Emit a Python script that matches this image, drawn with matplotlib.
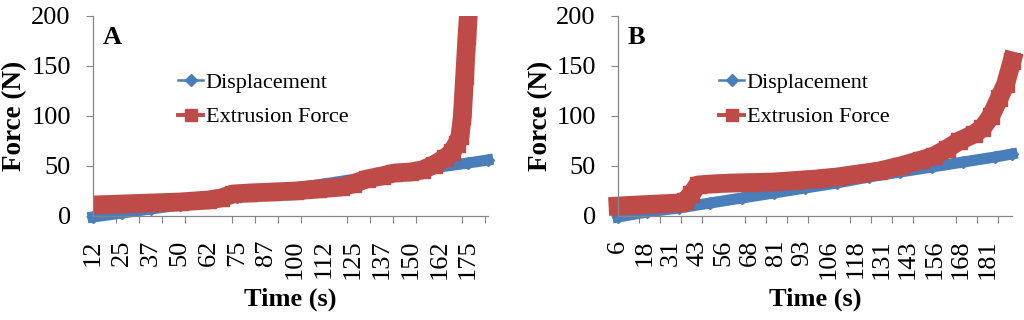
import matplotlib
matplotlib.use("Agg")
import matplotlib.pyplot as plt
from matplotlib.lines import Line2D
from matplotlib.ticker import FixedLocator

plt.rcParams["font.family"] = ["Liberation Serif", "DejaVu Serif"]

BLUE = "#4A7EBB"
RED = "#BE4B48"
AXIS_GREY = "#868686"

# panel A
a_disp_t = [12.5, 25, 37.5, 50, 62.5, 75, 87.5, 100, 112.5, 125, 137.5, 150, 162.5, 175, 183.5]
a_disp_v = [-1, 3, 7, 11, 15, 19, 23.5, 28, 32, 36.5, 41, 45, 49, 53, 56]
a_force_t = [12.5, 25, 37.5, 50, 62.5, 68, 73, 80, 90, 100, 110, 120, 125, 131, 137.5,
             143, 150, 155, 160, 165, 168, 170, 171.5, 172.5, 173.5, 174.5, 175.5]
a_force_v = [11, 12, 13, 14, 16, 18, 22, 23, 24, 25, 27, 29, 32, 37, 40,
             43, 44, 46, 51, 58, 64, 72, 80, 100, 140, 180, 215]
a_labels = ["12", "25", "37", "50", "62", "75", "87", "100", "112", "125",
            "137", "150", "162", "175"]

# panel B
b_disp_t = [6.25, 20, 35, 50, 65, 80, 95, 110, 125, 140, 155, 170, 185, 193]
b_disp_v = [-1, 4, 8, 13, 18, 23, 28, 33, 39, 44, 49, 54, 59, 62]
b_force_t = [6.25, 15, 25, 35, 38, 41, 44, 50, 60, 70, 80, 90, 100, 110, 120, 130,
             140, 150, 156, 162, 168, 175, 179, 183, 187, 190, 193]
b_force_v = [10, 11, 12, 13, 15, 22, 31, 32, 33, 33.5, 34, 35.5, 37, 39, 42, 45,
             50, 56, 60, 67, 75, 82, 88, 100, 118, 132, 155]
b_labels = ["6", "18", "31", "43", "56", "68", "81", "93", "106", "118",
            "131", "143", "156", "168", "181"]


def draw_panel(ax, disp_t, disp_v, force_t, force_v, labels, first_label, xlim, letter,
               legend_x, ylabel_x, clip_force):
    ax.plot(disp_t, disp_v, color=BLUE, lw=8, marker="D", ms=6, clip_on=False)
    ax.plot(force_t, force_v, color=RED, lw=13.5, marker="s", ms=11,
            solid_joinstyle="round", clip_on=clip_force)

    ax.set_xlim(*xlim)
    ax.set_ylim(0, 200)
    ax.set_yticks([0, 50, 100, 150, 200])

    label_pos = [first_label + 12.5 * i for i in range(len(labels))]
    ax.set_xticks(label_pos)
    ax.set_xticklabels(labels, rotation=90, va="top", ha="center")
    minor = []
    t = xlim[0]
    while t <= xlim[1]:
        minor.append(t)
        t += 10
    ax.xaxis.set_minor_locator(FixedLocator(minor))

    ax.tick_params(axis="x", which="major", length=0, pad=17, labelsize=19)
    ax.tick_params(axis="x", which="minor", length=5, width=0.8, color=AXIS_GREY)
    ax.tick_params(axis="y", length=5, width=0.8, color=AXIS_GREY, pad=11, labelsize=19)

    for side in ("top", "right"):
        ax.spines[side].set_visible(False)
    for side in ("left", "bottom"):
        ax.spines[side].set_color(AXIS_GREY)
        ax.spines[side].set_linewidth(0.9)

    ax.set_ylabel("Force (N)", fontsize=19.5, fontweight="bold")
    ax.yaxis.set_label_coords(ylabel_x, 0.5)
    ax.set_xlabel("Time (s)", fontsize=19, fontweight="bold")
    ax.xaxis.set_label_coords(0.5, -0.36)

    ax.text(0.025, 0.89, letter, transform=ax.transAxes, fontsize=19,
            fontweight="bold", va="center", ha="left")

    handles = [
        Line2D([], [], color=BLUE, lw=1.8, marker="D", ms=6),
        Line2D([], [], color=RED, lw=2.8, marker="s", ms=8),
    ]
    ax.legend(handles, ["Displacement", "Extrusion Force"], loc="center left",
              bbox_to_anchor=(legend_x, 0.58), frameon=False, fontsize=16,
              borderpad=0, borderaxespad=0, handlelength=1.15, handletextpad=0.1,
              labelspacing=0.62)


fig = plt.figure(figsize=(10.24, 3.2), dpi=100)
ax_a = fig.add_axes([93 / 1024, 104 / 320, 395 / 1024, 200 / 320])
ax_b = fig.add_axes([618 / 1024, 104 / 320, 394 / 1024, 200 / 320])

draw_panel(ax_a, a_disp_t, a_disp_v, a_force_t, a_force_v, a_labels, 12.5,
           (12.5, 183.6), "A", 0.215, -0.166, True)
draw_panel(ax_b, b_disp_t, b_disp_v, b_force_t, b_force_v, b_labels, 6.25,
           (6.25, 193.0), "B", 0.256, -0.164, False)

fig.savefig("out.png", dpi=100)
